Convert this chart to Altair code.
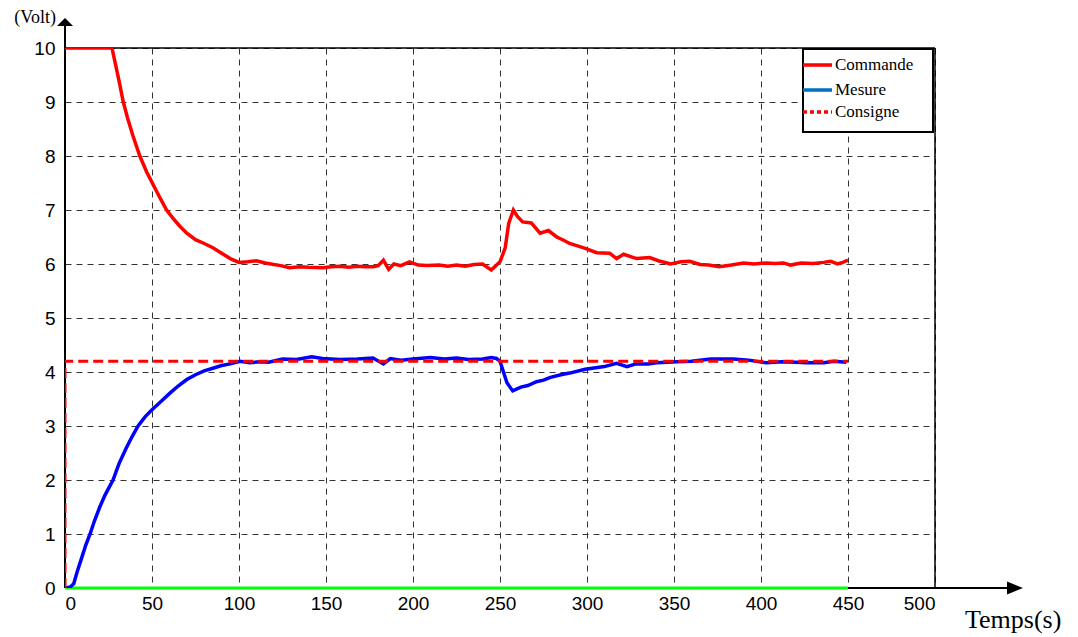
import altair as alt
import pandas as pd

# ---- data ----
cmd_t = [0, 27, 29, 31, 33.5, 36, 39, 43, 47, 51, 55, 58.4, 62, 66, 70, 75, 80, 85, 90, 95, 100,
         105, 110, 115, 120, 124, 129, 135, 140, 148, 153, 158, 163, 168, 172, 177, 180, 183,
         186, 189, 193, 198, 203, 208, 215, 220, 225, 230, 235, 240, 245, 250, 253, 255, 257.7,
         260, 263, 268, 273, 277.8, 282.6, 286, 290, 295, 299, 305.6, 313, 317, 321, 328.5,
         336, 341, 348, 354, 359, 365, 370, 376, 383, 390, 396, 403, 408, 413, 417, 423, 430,
         436, 440, 444, 447, 450]
cmd_v = [10, 10, 9.7, 9.4, 9.0, 8.7, 8.38, 8.0, 7.7, 7.45, 7.2, 7.0, 6.85, 6.7, 6.57, 6.45, 6.38,
         6.3, 6.2, 6.1, 6.03, 6.04, 6.06, 6.02, 5.99, 5.97, 5.93, 5.95, 5.94, 5.93, 5.95, 5.96,
         5.94, 5.96, 5.95, 5.95, 5.97, 6.07, 5.9, 6.0, 5.97, 6.04, 5.98, 5.97, 5.98, 5.96, 5.98,
         5.96, 5.99, 6.0, 5.89, 6.04, 6.3, 6.75, 7.0, 6.88, 6.78, 6.76, 6.57, 6.62, 6.5, 6.45,
         6.38, 6.33, 6.29, 6.21, 6.2, 6.1, 6.18, 6.1, 6.12, 6.06, 6.0, 6.04, 6.05, 5.99, 5.98,
         5.95, 5.98, 6.02, 6.0, 6.02, 6.01, 6.02, 5.98, 6.02, 6.01, 6.03, 6.05, 6.0, 6.03, 6.07]

mes_t = [0, 3, 5, 7, 10, 12, 14.4, 17, 20, 23, 27.6, 31, 35, 38.5, 42, 46, 50, 55, 60, 65, 70,
         75, 80, 85, 90, 95, 100.6, 106, 112, 117, 125, 133, 141.8, 148, 158, 168, 177, 183, 187,
         193, 200, 210, 218, 225, 232, 240, 245, 248, 250, 252, 254, 257.3, 262, 266, 271, 275,
         279, 285, 290, 299, 305, 310, 317, 323, 328, 335, 340, 352, 360, 371, 384, 393, 403,
         412, 420, 426, 436, 442, 449]
mes_v = [0, 0.02, 0.08, 0.3, 0.6, 0.8, 1.0, 1.25, 1.5, 1.72, 2.0, 2.3, 2.58, 2.8, 3.0, 3.17,
         3.3, 3.45, 3.6, 3.74, 3.86, 3.95, 4.02, 4.07, 4.12, 4.15, 4.2, 4.17, 4.19, 4.18, 4.24,
         4.23, 4.28, 4.25, 4.23, 4.24, 4.26, 4.15, 4.25, 4.22, 4.24, 4.27, 4.24, 4.26, 4.23,
         4.24, 4.27, 4.25, 4.2, 4.0, 3.8, 3.65, 3.72, 3.75, 3.82, 3.85, 3.9, 3.95, 3.98, 4.05,
         4.08, 4.1, 4.16, 4.1, 4.15, 4.15, 4.17, 4.19, 4.2, 4.24, 4.24, 4.22, 4.17, 4.19, 4.18,
         4.17, 4.17, 4.2, 4.18]

cons_t = [0, 0, 450]
cons_v = [0, 4.2, 4.2]
zero_t = [0, 450]
zero_v = [0, 0]

x_ticks = list(range(0, 501, 50))
y_ticks = list(range(0, 11))
legend_labels = ["Commande", "Mesure", "Consigne"]

cmd = pd.DataFrame({"t": cmd_t, "v": cmd_v})
mes = pd.DataFrame({"t": mes_t, "v": mes_v})
cons = pd.DataFrame({"t": cons_t, "v": cons_v, "i": list(range(len(cons_t)))})
zero = pd.DataFrame({"t": zero_t, "v": zero_v})
one = pd.DataFrame({"a": [0]})

xs = alt.Scale(domain=[0, 500], nice=False)
ys = alt.Scale(domain=[0, 10], nice=False)

SANS = "Liberation Sans"
SERIF = "Liberation Serif"

base_axis = dict(grid=True, gridDash=[6, 5], gridColor="#333333", gridWidth=1, gridOpacity=1,
                 domain=False, ticks=False, labelFont=SANS, labelFontSize=19,
                 labelColor="black", title=None, zindex=0)

grid = alt.Chart(cmd).mark_line(opacity=0).encode(
    x=alt.X("t:Q", scale=xs, axis=alt.Axis(values=x_ticks, labelPadding=6, **base_axis)),
    y=alt.Y("v:Q", scale=ys, axis=alt.Axis(values=y_ticks, labelPadding=10, **base_axis)),
)

# frame (top and right), solid
top = alt.Chart(one).mark_rule(color="black", strokeWidth=1.5).encode(
    x=alt.datum(0, scale=xs), x2=alt.datum(500), y=alt.datum(10, scale=ys))
right = alt.Chart(one).mark_rule(color="black", strokeWidth=1.5).encode(
    x=alt.datum(500, scale=xs), y=alt.datum(0, scale=ys), y2=alt.datum(10))

# axes with arrows
xaxis = alt.Chart(one).mark_rule(color="black", strokeWidth=2).encode(
    x=alt.datum(0, scale=xs), x2=alt.value(942), y=alt.datum(0, scale=ys))
yaxis = alt.Chart(one).mark_rule(color="black", strokeWidth=2).encode(
    y=alt.datum(0, scale=ys), y2=alt.value(-22), x=alt.datum(0, scale=xs))
xarrow = alt.Chart(one).mark_point(shape="M-1,-0.8L1,0L-1,0.8Z", filled=True, color="black",
                                   opacity=1, size=256).encode(
    x=alt.value(950), y=alt.value(540))
yarrow = alt.Chart(one).mark_point(shape="M-1,0.5L0,-0.5L1,0.5Z", filled=True, color="black",
                                   opacity=1, size=256).encode(
    x=alt.value(0), y=alt.value(-26))

volt = alt.Chart(one).mark_text(text="(Volt)", font=SERIF, fontSize=18, align="right",
                                baseline="middle", color="black").encode(
    x=alt.value(-9), y=alt.value(-30))
temps = alt.Chart(one).mark_text(text="Temps(s)", font=SERIF, fontSize=26, align="left",
                                 baseline="middle", color="black").encode(
    x=alt.value(900), y=alt.value(572))

zero_line = alt.Chart(zero).mark_line(color="#00ff00", strokeWidth=3, clip=False).encode(
    x=alt.X("t:Q", scale=xs), y=alt.Y("v:Q", scale=ys))
cmd_line = alt.Chart(cmd).mark_line(color="#ff0000", strokeWidth=3.5, clip=True).encode(
    x=alt.X("t:Q", scale=xs), y=alt.Y("v:Q", scale=ys))
mes_line = alt.Chart(mes).mark_line(color="#0000ff", strokeWidth=3.5, clip=True).encode(
    x=alt.X("t:Q", scale=xs), y=alt.Y("v:Q", scale=ys))
cons_line = alt.Chart(cons).mark_line(color="#ff0000", strokeWidth=3, strokeDash=[10, 5],
                                      clip=True).encode(
    x=alt.X("t:Q", scale=xs), y=alt.Y("v:Q", scale=ys), order="i:Q")

# legend box
lbox = alt.Chart(one).mark_rect(fill="white", stroke="black", strokeWidth=2).encode(
    x=alt.value(738), x2=alt.value(868), y=alt.value(1), y2=alt.value(84))
leg_y = [17, 42, 64]
leg_col = ["#ff0000", "#0070c0", "#ff0000"]
leg_dash = [[1, 0], [1, 0], [4, 3]]
leg_layers = []
for lab, yy, c, d in zip(legend_labels, leg_y, leg_col, leg_dash):
    leg_layers.append(alt.Chart(one).mark_rule(color=c, strokeWidth=3.5, strokeDash=d).encode(
        x=alt.value(738), x2=alt.value(767), y=alt.value(yy)))
    leg_layers.append(alt.Chart(one).mark_text(text=lab, font=SERIF, fontSize=17, align="left",
                                               baseline="middle", color="black").encode(
        x=alt.value(770), y=alt.value(yy)))

chart = alt.layer(
    grid, top, right, xaxis, yaxis, xarrow, yarrow, volt, temps,
    zero_line, mes_line, cmd_line, cons_line, lbox, *leg_layers
).properties(
    width=870, height=540,
    autosize=alt.AutoSizeParams(type="none"),
    padding={"left": 65, "top": 48, "right": 143, "bottom": 49},
    background="white",
).configure_view(stroke=None)

chart.save("out.html", embed_options={"renderer": "svg", "actions": False})
